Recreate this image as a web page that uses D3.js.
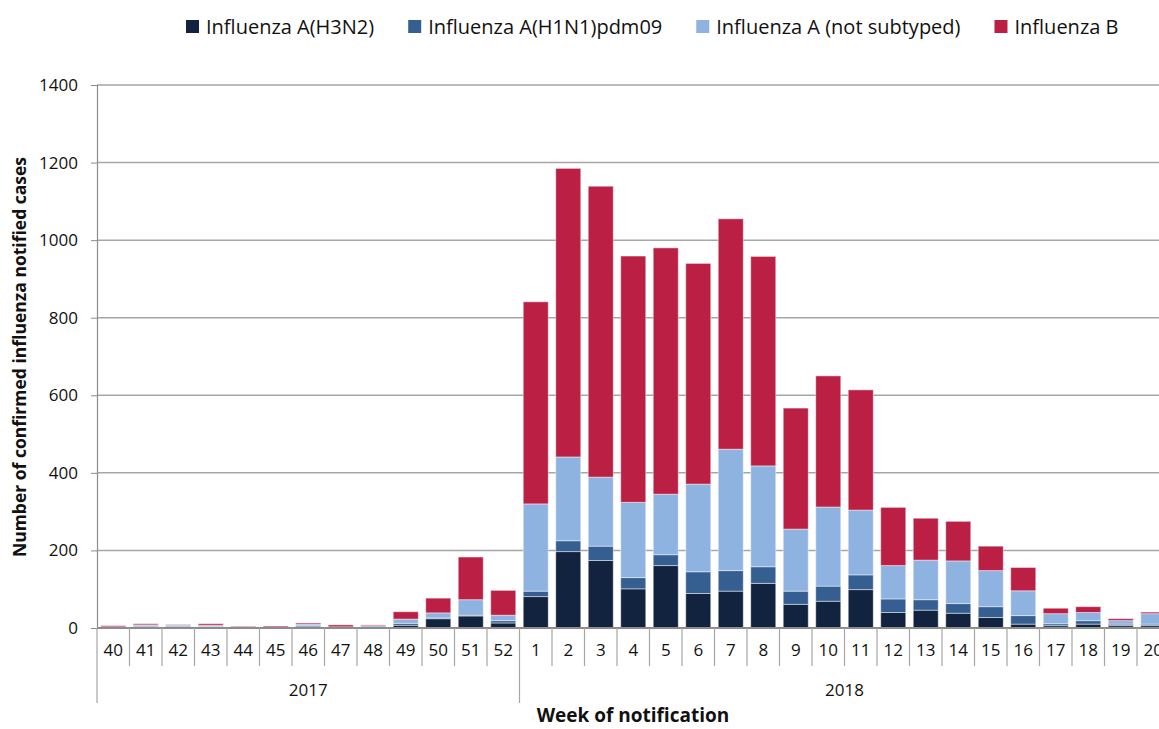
<!DOCTYPE html>
<html>
<head>
<meta charset="utf-8">
<script src="https://cdn.jsdelivr.net/npm/d3@7"></script>
<style>
  body { margin: 0; background: #fff; }
  svg { font-family: "Open Sans", Lato, sans-serif; }
</style>
</head>
<body>
<div id="chart_div"></div>
<script>
// week labels, grouped by year
var weeks = ['40','41','42','43','44','45','46','47','48','49','50','51','52',
             '1','2','3','4','5','6','7','8','9','10','11','12','13','14','15','16','17','18','19','20'];
var years = [{ label: '2017', n: 13 }, { label: '2018', n: 20 }];

var seriesNames = ['Influenza A(H3N2)', 'Influenza A(H1N1)pdm09', 'Influenza A (not subtyped)', 'Influenza B'];
var seriesColors = ['#12233f', '#365f91', '#8fb3e0', '#bb2044'];

var h3n2 = [2, 3, 3, 2, 1, 0, 3, 1, 2, 7, 24, 31, 13,
            81, 197, 174, 101, 161, 89, 95, 115, 61, 69, 99, 40, 46, 38, 27, 10, 6, 10, 6, 6];
var h1n1 = [0, 2, 2, 2, 0, 0, 3, 0, 0, 5, 2, 2, 6,
            14, 28, 37, 29, 28, 56, 53, 43, 34, 39, 38, 35, 27, 25, 28, 22, 5, 9, 4, 4];
var notSubtyped = [1, 3, 3, 3, 0, 2, 4, 2, 4, 11, 13, 40, 14,
            225, 216, 178, 194, 156, 226, 313, 260, 160, 204, 167, 86, 102, 110, 93, 64, 26, 21, 9, 27];
var fluB = [3, 3, 1, 4, 3, 3, 3, 5, 2, 19, 38, 110, 64,
            521, 744, 750, 635, 635, 569, 594, 540, 312, 338, 310, 150, 108, 102, 63, 60, 14, 15, 5, 4];

var yTicks = [0, 200, 400, 600, 800, 1000, 1200, 1400];

function makeChart() {
  var W = 1159, H = 729;
  var left = 97, top = 85, bottom = 628;
  var step = 32.5;

  var data = weeks.map(function (w, i) {
    return { key: i, week: w, s0: h3n2[i], s1: h1n1[i], s2: notSubtyped[i], s3: fluB[i] };
  });

  var svg = d3.select('#chart_div').append('svg')
      .attr('width', W)
      .attr('height', H);

  var xScale = d3.scaleBand()
      .domain(data.map(function (d) { return d.key; }))
      .range([left, left + step * weeks.length])
      .paddingInner(0.23)
      .paddingOuter(0.115);

  var yScale = d3.scaleLinear()
      .domain([0, 1400])
      .range([bottom, top]);

  // gridlines
  svg.append('g')
    .selectAll('line')
    .data(yTicks.slice(1))
    .enter()
    .append('line')
    .attr('x1', left)
    .attr('x2', W)
    .attr('y1', function (d) { return yScale(d); })
    .attr('y2', function (d) { return yScale(d); })
    .attr('stroke', '#a6a6a6')
    .attr('stroke-width', 1.5);

  // y axis
  var yAxis = svg.append('g')
      .attr('transform', `translate(${left},0)`)
      .call(d3.axisLeft(yScale).tickValues(yTicks).tickFormat(d3.format('d')).tickSize(6).tickPadding(13));
  yAxis.select('.domain').attr('stroke', '#8c8c8c').attr('stroke-width', 1.2);
  yAxis.selectAll('.tick line').attr('stroke', '#8c8c8c');
  yAxis.selectAll('.tick text')
    .style('font-size', '17px')
    .attr('fill', '#111')
    .attr('font-family', '"Open Sans", Lato, sans-serif');

  // stacked bars
  var keys = ['s0', 's1', 's2', 's3'];
  var stacked = d3.stack().keys(keys)(data);

  svg.append('g')
    .selectAll('g')
    .data(stacked)
    .enter()
    .append('g')
    .attr('fill', function (d, i) { return seriesColors[i]; })
    .selectAll('rect')
    .data(function (d) { return d; })
    .enter()
    .append('rect')
    .attr('x', function (d) { return xScale(d.data.key); })
    .attr('width', xScale.bandwidth())
    .attr('y', function (d) { return yScale(d[1]); })
    .attr('height', function (d) { return yScale(d[0]) - yScale(d[1]); })
    .attr('stroke', 'rgba(255,255,255,0.45)')
    .attr('stroke-width', 1);

  // x axis line and category separators
  svg.append('line')
    .attr('x1', left).attr('x2', W)
    .attr('y1', bottom).attr('y2', bottom)
    .attr('stroke', '#8c8c8c').attr('stroke-width', 2);

  var seps = d3.range(weeks.length + 1);
  svg.append('g')
    .selectAll('line')
    .data(seps)
    .enter()
    .append('line')
    .attr('x1', function (d) { return left + d * step; })
    .attr('x2', function (d) { return left + d * step; })
    .attr('y1', bottom)
    .attr('y2', function (d) { return (d === 0 || d === 13) ? 703 : 666; })
    .attr('stroke', '#a6a6a6')
    .attr('stroke-width', 1.2);

  svg.append('g')
    .selectAll('text')
    .data(data)
    .enter()
    .append('text')
    .attr('x', function (d) { return xScale(d.key) + xScale.bandwidth() / 2; })
    .attr('y', 656)
    .attr('text-anchor', 'middle')
    .style('font-size', '17px')
    .attr('fill', '#111')
    .text(function (d) { return d.week; });

  // year labels
  var start = 0;
  years.forEach(function (yr) {
    var x0 = left + start * step, x1 = left + (start + yr.n) * step;
    svg.append('text')
      .attr('x', (x0 + x1) / 2)
      .attr('y', 696)
      .attr('text-anchor', 'middle')
      .style('font-size', '17px')
      .attr('fill', '#111')
      .text(yr.label);
    start += yr.n;
  });

  // axis titles
  svg.append('text')
    .attr('x', 633)
    .attr('y', 722)
    .attr('text-anchor', 'middle')
    .style('font-size', '19px')
    .style('font-weight', 'bold')
    .attr('fill', '#111')
    .text('Week of notification');

  svg.append('text')
    .attr('transform', 'translate(26,357) rotate(-90)')
    .attr('text-anchor', 'middle')
    .style('font-size', '17.5px')
    .style('font-weight', 'bold')
    .attr('fill', '#111')
    .text('Number of confirmed influenza notified cases');

  // legend
  var lx = 186;
  seriesNames.forEach(function (name, i) {
    svg.append('rect')
      .attr('x', lx).attr('y', 20)
      .attr('width', 13).attr('height', 13)
      .attr('fill', seriesColors[i]);
    var t = svg.append('text')
      .attr('x', lx + 20)
      .attr('y', 34)
      .style('font-size', '20px')
      .attr('fill', '#111')
      .text(name);
    lx = lx + 20 + t.node().getComputedTextLength() + 34;
  });
}

makeChart();
</script>
</body>
</html>
